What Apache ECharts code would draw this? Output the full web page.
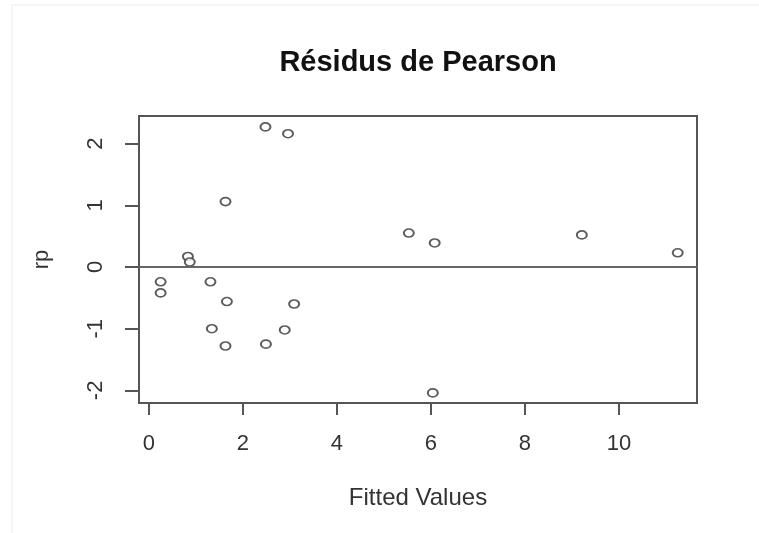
<!DOCTYPE html>
<html>
<head>
<meta charset="utf-8">
<script src="https://cdn.jsdelivr.net/npm/echarts@6/dist/echarts.min.js"></script>
<style>
html,body{margin:0;padding:0;background:#fff;}
#chart{width:759px;height:533px;}
</style>
</head>
<body>
<div id="chart"></div>
<script>
// Fitted values (x) and Pearson residuals (rp)
const fittedValues = [2.48, 2.96, 1.63, 0.83, 0.87, 0.25, 0.25, 1.31, 1.66, 3.09, 1.34, 2.89, 1.63, 2.49, 5.53, 6.08, 9.21, 11.25, 6.04];
const residuals    = [2.27, 2.16, 1.06, 0.17, 0.08, -0.24, -0.42, -0.24, -0.56, -0.60, -1.00, -1.02, -1.28, -1.25, 0.55, 0.39, 0.52, 0.23, -2.04];
const xTicks = [0, 2, 4, 6, 8, 10];
const yTicks = [-2, -1, 0, 1, 2];
const titleText = 'Résidus de Pearson';
const xName = 'Fitted Values';
const yName = 'rp';

const points = fittedValues.map((x, i) => [x, residuals[i]]);

const chart = echarts.init(document.getElementById('chart'), null, {renderer: 'canvas'});
const axisColor = '#555';
const font = 'Liberation Sans, Arial, sans-serif';

chart.setOption({
  animation: false,
  backgroundColor: '#fff',
  title: {
    text: titleText,
    left: 418,
    top: 48,
    padding: 0,
    textAlign: 'center',
    textStyle: {fontFamily: font, fontWeight: 'bold', fontSize: 29, color: '#111'}
  },
  grid: {
    left: 139, right: 62, top: 116, bottom: 130,
    show: true, borderColor: axisColor, borderWidth: 2, backgroundColor: 'transparent'
  },
  xAxis: {
    type: 'value',
    min: -0.21, max: 11.66,
    name: xName,
    nameLocation: 'middle',
    nameGap: 83,
    nameTextStyle: {fontFamily: font, fontSize: 24, color: '#333'},
    axisLine: {show: false, onZero: false},
    splitLine: {show: false},
    axisTick: {show: true, length: 12, customValues: xTicks, lineStyle: {color: axisColor, width: 2}},
    axisLabel: {customValues: xTicks, margin: 30, fontFamily: font, fontSize: 22, color: '#333'}
  },
  yAxis: {
    type: 'value',
    min: -2.204, max: 2.447,
    name: yName,
    nameLocation: 'middle',
    nameRotate: 90,
    nameGap: 86,
    nameTextStyle: {fontFamily: font, fontSize: 22, color: '#333'},
    axisLine: {show: false, onZero: false},
    splitLine: {show: false},
    axisTick: {show: true, length: 14, customValues: yTicks, lineStyle: {color: axisColor, width: 2}},
    axisLabel: {customValues: yTicks, rotate: 90, margin: 32, fontFamily: font, fontSize: 22, color: '#333'}
  },
  graphic: [
    {type: 'line', shape: {x1: 12, y1: 5, x2: 759, y2: 5}, style: {stroke: '#eeebe2', lineWidth: 1}, silent: true},
    {type: 'line', shape: {x1: 12, y1: 5, x2: 12, y2: 533}, style: {stroke: '#eeebe2', lineWidth: 1}, silent: true}
  ],
  series: [{
    type: 'scatter',
    data: points,
    symbol: 'circle',
    symbolSize: [10, 8],
    itemStyle: {color: '#fff', borderColor: '#333', borderWidth: 1.8},
    markLine: {
      silent: true,
      symbol: 'none',
      label: {show: false},
      lineStyle: {color: '#666', width: 2, type: 'solid'},
      data: [{yAxis: 0}]
    },
    z: 3
  }]
});
</script>
</body>
</html>
